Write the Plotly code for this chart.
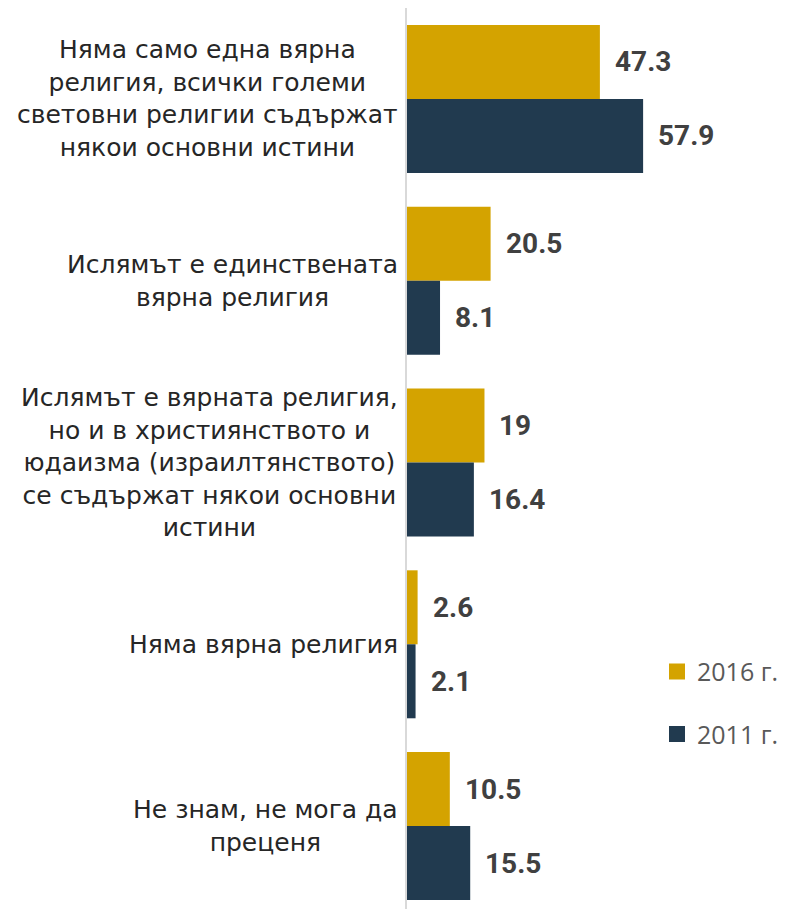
import plotly.graph_objects as go

categories = [
    "Няма само една вярна<br>религия, всички големи<br>световни религии съдържат<br>някои основни истини",
    "Ислямът е единствената<br>вярна религия",
    "Ислямът е вярната религия,<br>но и в християнството и<br>юдаизма (израилтянството)<br>се съдържат някои основни<br>истини",
    "Няма вярна религия",
    "Не знам, не мога да<br>преценя",
]
cat_ids = ["c1", "c2", "c3", "c4", "c5"]
values_2016 = [47.3, 20.5, 19, 2.6, 10.5]
values_2011 = [57.9, 8.1, 16.4, 2.1, 15.5]
series_names = ["2016 г.", "2011 г."]
colors = ["#D4A300", "#213A4F"]

fig = go.Figure()
for name, vals, col in zip(series_names, [values_2016, values_2011], colors):
    fig.add_trace(go.Bar(
        y=cat_ids, x=vals, name=name, orientation="h",
        marker=dict(color=col, line=dict(width=0)),
        showlegend=False,
    ))
# legend entries with larger square symbols
for name, col in zip(series_names, colors):
    fig.add_trace(go.Scatter(
        x=[None], y=[None], mode="markers", name=name,
        marker=dict(symbol="square", size=18, color=col),
        legendgroup=name, showlegend=True,
    ))

annotations = []
for cid, label in zip(cat_ids, categories):
    annotations.append(dict(
        x=0, xref="paper", y=cid, yref="y", text=label, showarrow=False,
        xanchor="right", yanchor="middle", align="center", xshift=-7,
        font=dict(family="DejaVu Sans", size=25, color="#262626"),
    ))

for vals, shift in [(values_2016, -0.5), (values_2011, 0.5)]:
    for i, v in enumerate(vals):
        annotations.append(dict(
            x=v, xref="x", y=i + shift * 0.407, yref="y",
            text=f"<b>{v:g}</b>", showarrow=False,
            xanchor="left", yanchor="middle", xshift=13,
            font=dict(family="Roboto", size=28, color="#404040"),
        ))

fig.update_layout(
    width=786, height=909,
    margin=dict(l=399, r=0, t=0, b=0),
    plot_bgcolor="white", paper_bgcolor="white",
    barmode="group", bargap=0.186, bargroupgap=0,
    showlegend=True,
    legend=dict(
        x=0.646, y=0.2951, xanchor="left", yanchor="top",
        traceorder="grouped", tracegroupgap=27, itemsizing="trace",
        font=dict(family="Open Sans", size=25, color="#595959"),
        bgcolor="rgba(0,0,0,0)",
    ),
    xaxis=dict(range=[0, 94.9], visible=False, fixedrange=True),
    yaxis=dict(
        range=[4.5, -0.5], showticklabels=False, showgrid=False,
        showline=True, linecolor="#D9D9D9", linewidth=2, zeroline=False,
        ticks="", type="category", categoryorder="array", categoryarray=cat_ids,
    ),
    annotations=annotations,
)

fig.write_html("out.html")
